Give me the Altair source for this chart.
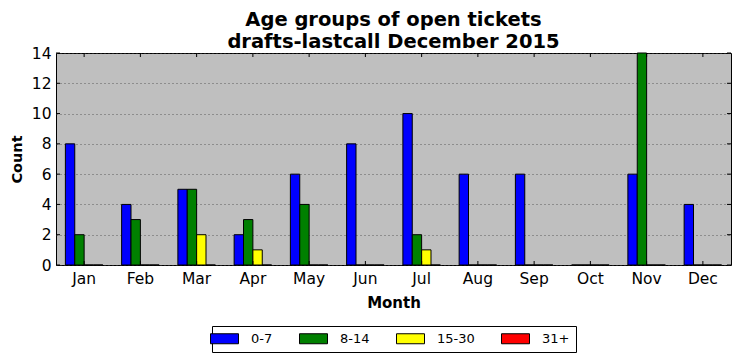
import altair as alt
import pandas as pd

months = ["Jan", "Feb", "Mar", "Apr", "May", "Jun", "Jul", "Aug", "Sep", "Oct", "Nov", "Dec"]
groups = ["0-7", "8-14", "15-30", "31+"]
counts_0_7 = [8, 4, 5, 2, 6, 8, 10, 6, 6, 0, 6, 4]
counts_8_14 = [2, 3, 5, 3, 4, 0, 2, 0, 0, 0, 14, 0]
counts_15_30 = [0, 0, 2, 1, 0, 0, 1, 0, 0, 0, 0, 0]
counts_31 = [0, 0, 0, 0, 0, 0, 0, 0, 0, 0, 0, 0]
colors = ["#0000ff", "#008000", "#ffff00", "#ff0000"]
y_ticks = [0, 2, 4, 6, 8, 10, 12, 14]

rows = []
for g, vals in zip(groups, [counts_0_7, counts_8_14, counts_15_30, counts_31]):
    for m, v in zip(months, vals):
        rows.append({"Month": m, "Group": g, "Count": v})
df = pd.DataFrame(rows)
df_months = pd.DataFrame({"Month": months})
df_y = pd.DataFrame({"Count": y_ticks})

W, H = 675, 212
FONT = "DejaVu Sans"

xscale = alt.Scale(domain=months, paddingInner=1 / 3, paddingOuter=1 / 6)
yscale = alt.Scale(domain=[0, 14], nice=False)

x_axis = alt.Axis(title="Month", labelAngle=0, ticks=False, domain=False,
                  labelFontSize=15.5, labelPadding=6, labelColor="black",
                  titleFontSize=15, titleFontWeight="bold", titlePadding=9,
                  titleColor="black")
y_axis = alt.Axis(title="Count", values=y_ticks, ticks=False, domain=False,
                  labelOverlap=False, labelFlush=False,
                  grid=True, gridColor="#444444", gridDash=[1, 3], gridOpacity=0.8,
                  labelFontSize=15.5, labelPadding=5, labelColor="black",
                  titleFontSize=14.5, titleFontWeight="bold", titlePadding=7,
                  titleColor="black")


def xenc():
    return alt.X("Month:N", sort=months, scale=xscale, axis=x_axis)


def yenc():
    return alt.Y("Count:Q", scale=yscale, axis=y_axis)


bars = alt.Chart(df).mark_bar(stroke="black", strokeWidth=1).encode(
    x=xenc(),
    xOffset=alt.XOffset("Group:N", sort=groups,
                        scale=alt.Scale(domain=groups, paddingInner=0, paddingOuter=0)),
    y=yenc(),
    color=alt.Color("Group:N", sort=groups, scale=alt.Scale(domain=groups, range=colors),
                    legend=alt.Legend(title=None, orient="none", direction="horizontal",
                                      legendX=156, legendY=273,
                                      strokeColor="black", fillColor="white", padding=6,
                                      symbolType="M-2.8,-1H2.8V1H-2.8Z", symbolSize=100,
                                      symbolStrokeColor="black", symbolStrokeWidth=1,
                                      symbolOpacity=1,
                                      labelFontSize=13, labelOffset=20, columnPadding=24,
                                      labelColor="black", cornerRadius=0)),
)

tick_bottom = alt.Chart(df_months).mark_rule(color="black", strokeWidth=1).encode(
    x=xenc(), y=alt.value(H), y2=alt.value(H - 4))
tick_top = alt.Chart(df_months).mark_rule(color="black", strokeWidth=1).encode(
    x=xenc(), y=alt.value(0), y2=alt.value(4))
tick_left = alt.Chart(df_y).mark_rule(color="black", strokeWidth=1).encode(
    y=yenc(), x=alt.value(0), x2=alt.value(4))
tick_right = alt.Chart(df_y).mark_rule(color="black", strokeWidth=1).encode(
    y=yenc(), x=alt.value(W - 4), x2=alt.value(W))

chart = alt.layer(bars, tick_bottom, tick_top, tick_left, tick_right).properties(
    width=W, height=H,
    title=alt.TitleParams(["Age groups of open tickets", "drafts-lastcall December 2015"],
                          fontSize=19.5, fontWeight="bold", font=FONT, color="black",
                          anchor="middle", frame="group", lineHeight=22, offset=-6),
    autosize=alt.AutoSizeParams(type="none"),
    padding={"left": 48, "top": 45, "right": 1, "bottom": 88},
).configure(font=FONT).configure_view(
    fill="#bfbfbf", stroke="black", strokeWidth=1
).configure_axis(labelFont=FONT, titleFont=FONT).configure_legend(labelFont=FONT)

chart.save("out.html", embed_options={"renderer": "svg", "actions": False})
